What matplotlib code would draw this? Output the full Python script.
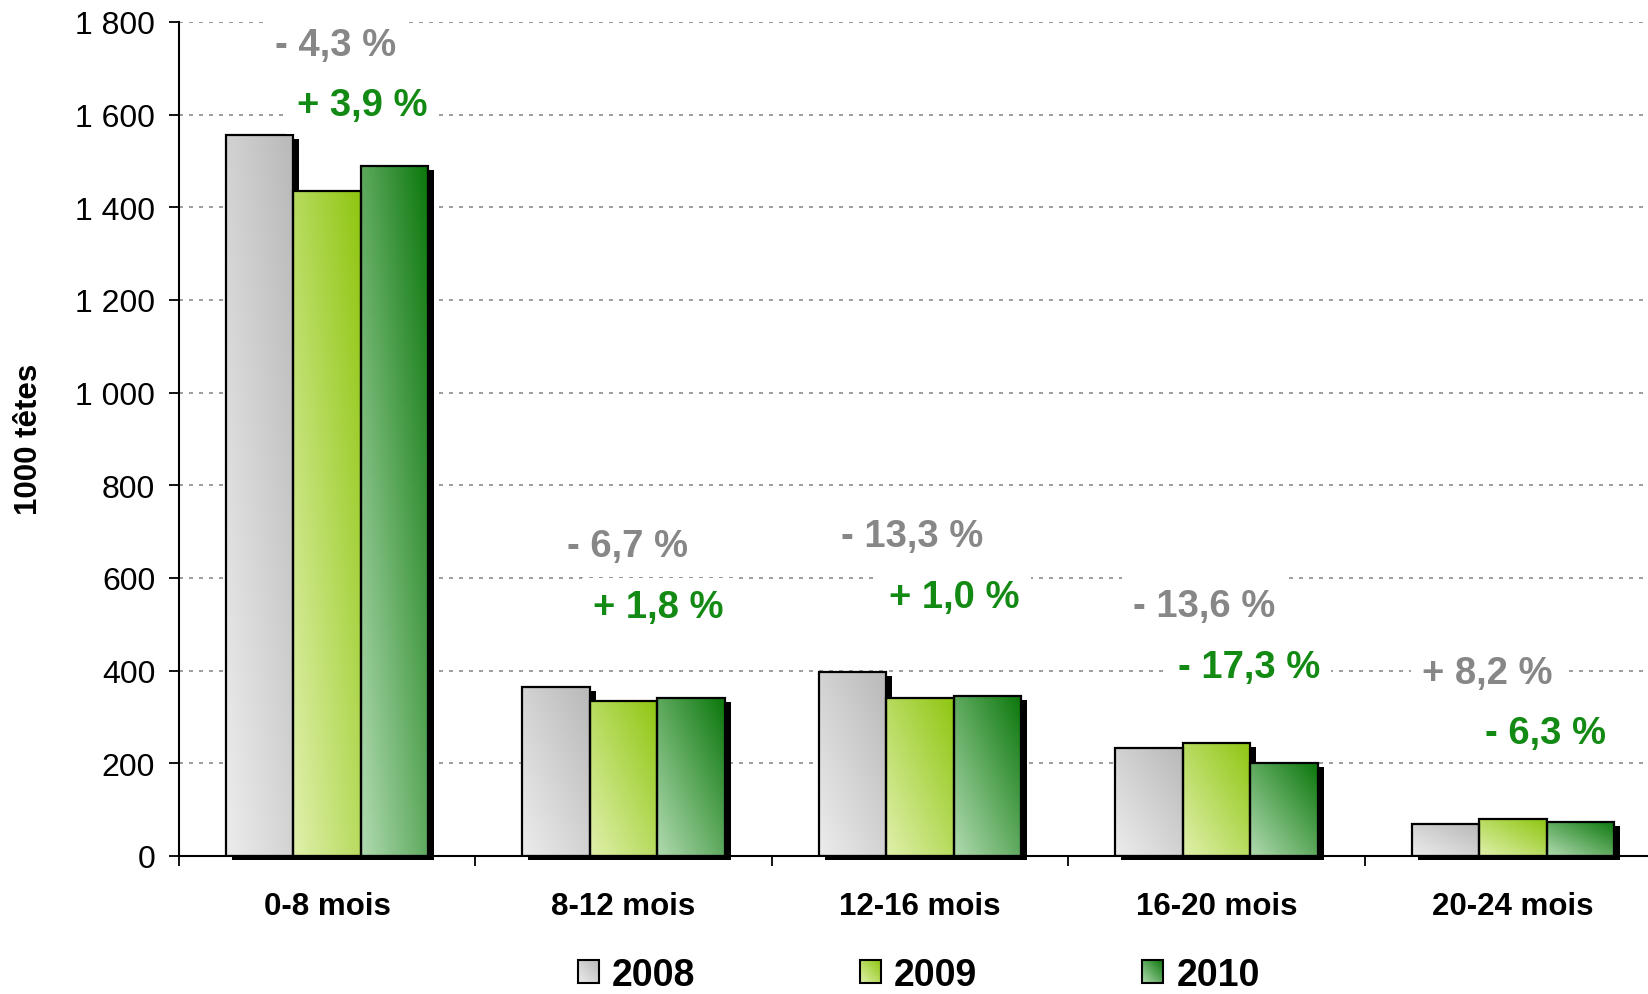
import numpy as np
import matplotlib
matplotlib.use("Agg")
import matplotlib.pyplot as plt
from matplotlib.patches import Rectangle, Patch
from matplotlib.colors import LinearSegmentedColormap
from matplotlib.transforms import ScaledTranslation, Bbox, TransformedBbox
from matplotlib.image import BboxImage
from matplotlib.legend_handler import HandlerBase

plt.rcParams['font.family'] = ['Liberation Sans', 'DejaVu Sans']

categories = ["0-8 mois", "8-12 mois", "12-16 mois", "16-20 mois", "20-24 mois"]
years = ["2008", "2009", "2010"]
v2008 = [1555, 365, 398, 232, 69]
v2009 = [1435, 334, 342, 243, 79]
v2010 = [1490, 340, 345, 200, 74]
# evolution 2010/2008 (grey) and 2010/2009 (green)
chg_08 = ["- 4,3 %", "- 6,7 %", "- 13,3 %", "- 13,6 %", "+ 8,2 %"]
chg_09 = ["+ 3,9 %", "+ 1,8 %", "+ 1,0 %", "- 17,3 %", "- 6,3 %"]
# label positions (data units)
chg_08_x = [0.03, 0.015, -0.025, -0.043, -0.085]
chg_08_y = [1751, 668, 690, 539, 395]
chg_09_x = [0.12, 0.117, 0.117, 0.11, 0.11]
chg_09_y = [1621, 537, 559, 408, 266]

cmaps = [
    LinearSegmentedColormap.from_list("g08", ["#ececec", "#b9b9b9"]),
    LinearSegmentedColormap.from_list("g09", ["#e0f0ac", "#8fc612"]),
    LinearSegmentedColormap.from_list("g10", ["#b0dab0", "#0c780c"]),
]

n = 60
u, v = np.meshgrid(np.linspace(0, 1, n), np.linspace(0, 1, n))
grad = np.clip(0.5 * u + 0.5 * v, 0, 1)

fig = plt.figure(figsize=(16.48, 9.95), dpi=100)
ax = fig.add_axes([0.1085, 0.1387, 0.8995, 0.8383])

bw = 0.228
shadow = ScaledTranslation(6 / 100, -4 / 100, fig.dpi_scale_trans)
series = [v2008, v2009, v2010]
for k, vals in enumerate(series):
    for i, h in enumerate(vals):
        x0 = i + (k - 1.5) * bw
        ax.add_patch(Rectangle((x0, 0), bw, h, facecolor='black', edgecolor='none',
                               transform=ax.transData + shadow, zorder=1.5, clip_on=False))
        ax.imshow(grad, extent=(x0, x0 + bw, 0, h), origin='lower', cmap=cmaps[k],
                  aspect='auto', interpolation='bilinear', zorder=2)
        ax.add_patch(Rectangle((x0, 0), bw, h, facecolor='none', edgecolor='black',
                               lw=1.6, zorder=3))

ax.set_xlim(-0.5, 4.5)
ax.set_ylim(0, 1800)
ax.set_yticks(np.arange(0, 1801, 200))
ax.set_yticklabels([f"{t:,}".replace(",", " ") for t in range(0, 1801, 200)])
ax.yaxis.grid(True, color='#8c8c8c', linestyle=(0, (2.4, 3.6)), lw=1.2, zorder=0)
ax.set_axisbelow(True)

ax.set_xticks(range(5))
ax.set_xticklabels(categories, fontweight='bold', fontsize=22.5)
ax.set_xticks([-0.5, 0.5, 1.5, 2.5, 3.5], minor=True)
ax.tick_params(axis='x', which='major', length=0, pad=25)
ax.tick_params(axis='x', which='minor', length=7, width=1.3, direction='out')
ax.tick_params(axis='y', length=7, width=1.3, direction='out', labelsize=23, pad=10)

for s in ['top', 'right']:
    ax.spines[s].set_visible(False)
for s in ['left', 'bottom']:
    ax.spines[s].set_linewidth(1.5)
    ax.spines[s].set_zorder(4)

box = dict(facecolor='white', edgecolor='none', pad=8)
for i in range(5):
    ax.text(i + chg_08_x[i], chg_08_y[i], chg_08[i], color='#878787', fontsize=27.5,
            fontweight='bold', ha='center', va='center', bbox=box, zorder=5)
    ax.text(i + chg_09_x[i], chg_09_y[i], chg_09[i], color='#138a13', fontsize=27.5,
            fontweight='bold', ha='center', va='center', bbox=box, zorder=5)

fig.text(29 / 1648, 1 - 439 / 995, "1000 têtes", rotation=90, ha='center', va='center',
         fontsize=22.5, fontweight='bold')


class GradHandler(HandlerBase):
    def __init__(self, cmap):
        super().__init__()
        self.cmap = cmap

    def create_artists(self, legend, orig_handle, xdescent, ydescent, width, height,
                       fontsize, trans):
        bb = TransformedBbox(Bbox.from_bounds(-xdescent, -ydescent, width, height), trans)
        img = BboxImage(bb, cmap=self.cmap, interpolation='bilinear', origin='lower')
        img.set_data(grad)
        rect = Rectangle((-xdescent, -ydescent), width, height, facecolor='none',
                         edgecolor='black', lw=1.5, transform=trans)
        return [img, rect]


handles = [Patch(label=y) for y in years]
hmap = {h: GradHandler(c) for h, c in zip(handles, cmaps)}
fig.legend(handles=handles, labels=years, handler_map=hmap, loc='lower center',
           bbox_to_anchor=(0.5575, 0.001), ncol=3, frameon=False,
           prop={'weight': 'bold', 'size': 27}, handlelength=0.56, handleheight=0.56,
           handletextpad=0.35, columnspacing=4.4, borderpad=0, borderaxespad=0)

fig.savefig("out.png", dpi=100)
